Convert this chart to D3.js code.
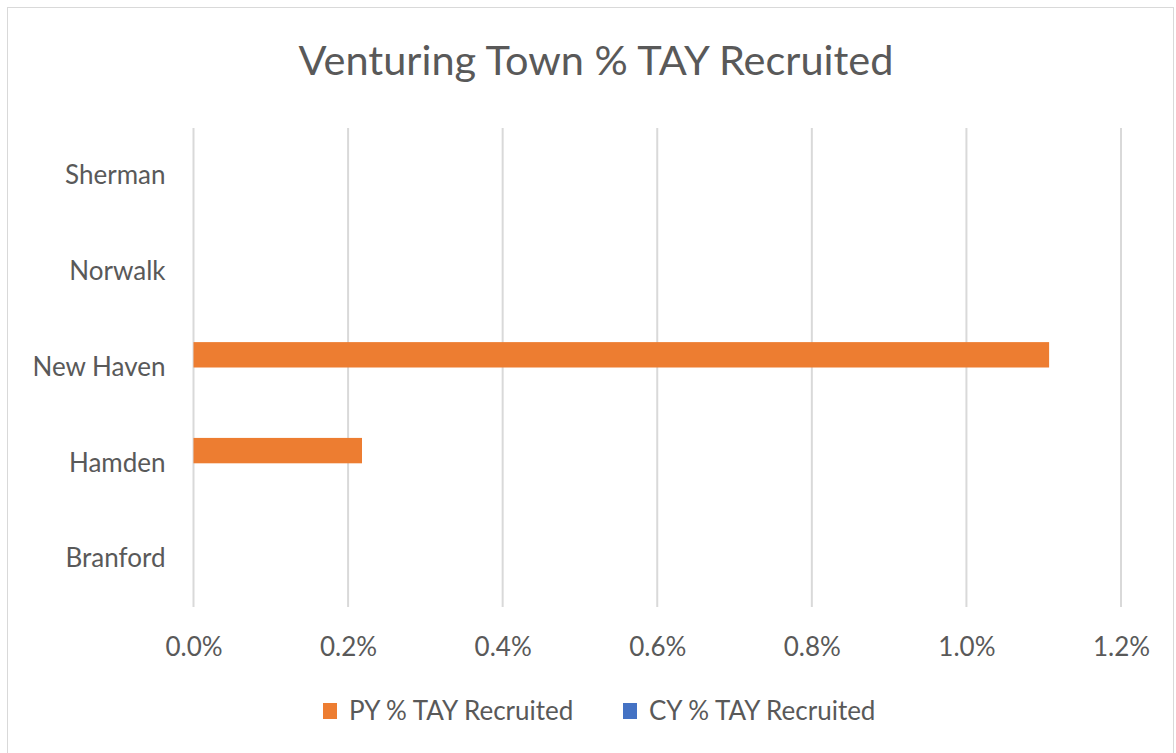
<!DOCTYPE html>
<html>
<head>
<meta charset="utf-8">
<script src="https://cdn.jsdelivr.net/npm/d3@7"></script>
<style>
  body { margin: 0; background: #fff; }
  text { font-family: Lato, "Open Sans", sans-serif; fill: #595959; }
</style>
</head>
<body>
<div id="chart"></div>
<script>
// Data
const towns = ['Sherman', 'Norwalk', 'New Haven', 'Hamden', 'Branford']
const seriesNames = ['PY % TAY Recruited', 'CY % TAY Recruited']
const pyValues = [0, 0, 0.01107, 0.00218, 0]
const cyValues = [0, 0, 0, 0, 0]
const xTicks = [0, 0.002, 0.004, 0.006, 0.008, 0.010, 0.012]
const colors = ['#ED7D31', '#4472C4']

// Our canvas
const width = 1176,
  height = 753
const plot = { left: 193.5, right: 1121, top: 128, bottom: 607 }

let svg = d3.select('#chart')
  .append('svg')
  .attr('width', width)
  .attr('height', height)

// chart border
svg.append('rect')
  .attr('x', 7.5).attr('y', 7.5)
  .attr('width', width - 10).attr('height', height - 4)
  .attr('fill', 'none')
  .attr('stroke', '#D9D9D9')

const xScale = d3.scaleLinear()
  .domain([0, 0.012])
  .range([plot.left, plot.right])

const yScale = d3.scaleBand()
  .domain(towns)
  .range([plot.top, plot.bottom])
  .paddingInner(0.47)
  .paddingOuter(0.235)

const subScale = d3.scaleBand()
  .domain(seriesNames)
  .range([0, yScale.bandwidth()])

// gridlines
svg.append('g')
  .selectAll('line')
  .data(xTicks)
  .enter()
  .append('line')
  .attr('x1', d => xScale(d))
  .attr('x2', d => xScale(d))
  .attr('y1', plot.top)
  .attr('y2', plot.bottom)
  .attr('stroke', '#D9D9D9')
  .attr('stroke-width', 2)

// bars
const seriesData = [pyValues, cyValues]
seriesData.forEach((vals, s) => {
  svg.append('g')
    .selectAll('rect')
    .data(vals)
    .enter()
    .append('rect')
    .attr('x', xScale(0))
    .attr('y', (d, i) => yScale(towns[i]) + subScale(seriesNames[s]))
    .attr('width', d => xScale(d) - xScale(0))
    .attr('height', subScale.bandwidth())
    .attr('fill', colors[s])
})

// x axis labels
const xAxis = svg.append('g')
  .attr('transform', `translate(0, ${plot.bottom + 40})`)
  .call(d3.axisBottom(xScale).tickValues(xTicks).tickFormat(d3.format('.1%')).tickSize(0).tickPadding(0))
xAxis.select('.domain').remove()
xAxis.selectAll('text')
  .attr('dy', '0.35em')
  .style('font-size', '26px')
  .attr('font-family', null)
  .attr('fill', '#595959')

// y axis labels
const yAxis = svg.append('g')
  .attr('transform', `translate(${plot.left - 28}, 0)`)
  .call(d3.axisLeft(yScale).tickSize(0).tickPadding(0))
yAxis.select('.domain').remove()
yAxis.selectAll('text')
  .style('font-size', '26px')
  .attr('font-family', null)
  .attr('fill', '#595959')

// title
svg.append('text')
  .attr('x', 596)
  .attr('y', 60)
  .attr('dy', '0.35em')
  .attr('text-anchor', 'middle')
  .style('font-size', '41.5px')
  .text('Venturing Town % TAY Recruited')

// legend
const legend = svg.append('g')
  .selectAll('g')
  .data(seriesNames)
  .enter()
  .append('g')
  .attr('transform', (d, i) => `translate(${323 + i * 300}, 711)`)
legend.append('rect')
  .attr('x', 0).attr('y', -8)
  .attr('width', 14).attr('height', 16)
  .attr('fill', (d, i) => colors[i])
legend.append('text')
  .attr('x', 26)
  .attr('dy', '0.35em')
  .style('font-size', '26px')
  .text(d => d)
</script>
</body>
</html>
